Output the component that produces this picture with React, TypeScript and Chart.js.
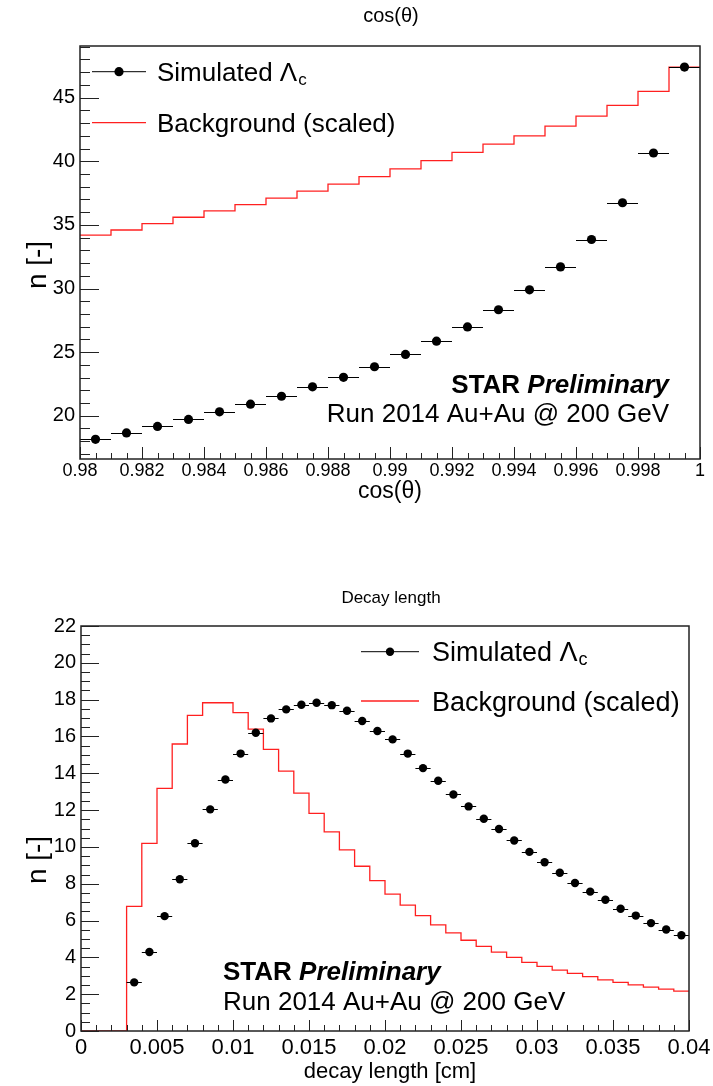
import React, { useEffect, useRef } from "react";
import { Chart, registerables } from "chart.js";

Chart.register(...registerables);

const FONT = "'Liberation Sans', Arial, Helvetica, sans-serif";

// ---------- Top panel: cos(theta) ----------
const COS_BIN_WIDTH = 0.001;
const COS_BIN_CENTERS = [
  0.9805, 0.9815, 0.9825, 0.9835, 0.9845, 0.9855, 0.9865, 0.9875, 0.9885, 0.9895,
  0.9905, 0.9915, 0.9925, 0.9935, 0.9945, 0.9955, 0.9965, 0.9975, 0.9985, 0.9995,
];
const COS_SIGNAL = [
  18.15, 18.65, 19.16, 19.71, 20.31, 20.91, 21.53, 22.27, 23.02, 23.85,
  24.82, 25.86, 26.98, 28.33, 29.9, 31.7, 33.85, 36.74, 40.65, 47.4,
];
const COS_BACKGROUND = [
  34.2, 34.6, 35.1, 35.6, 36.1, 36.6, 37.1, 37.65, 38.2, 38.8,
  39.4, 40.05, 40.7, 41.35, 42.0, 42.76, 43.55, 44.4, 45.5, 47.4,
];
const COS_X_TICKS = [0.98, 0.982, 0.984, 0.986, 0.988, 0.99, 0.992, 0.994, 0.996, 0.998, 1];
const COS_X_LABELS = ["0.98", "0.982", "0.984", "0.986", "0.988", "0.99", "0.992", "0.994", "0.996", "0.998", "1"];
const COS_Y_TICKS = [20, 25, 30, 35, 40, 45];
const COS_Y_LABELS = ["20", "25", "30", "35", "40", "45"];

// ---------- Bottom panel: decay length ----------
const DL_BIN_WIDTH = 0.001;
const DL_BIN_CENTERS = [
  0.0005, 0.0015, 0.0025, 0.0035, 0.0045, 0.0055, 0.0065, 0.0075, 0.0085, 0.0095,
  0.0105, 0.0115, 0.0125, 0.0135, 0.0145, 0.0155, 0.0165, 0.0175, 0.0185, 0.0195,
  0.0205, 0.0215, 0.0225, 0.0235, 0.0245, 0.0255, 0.0265, 0.0275, 0.0285, 0.0295,
  0.0305, 0.0315, 0.0325, 0.0335, 0.0345, 0.0355, 0.0365, 0.0375, 0.0385, 0.0395,
];
const DL_SIGNAL = [
  null, null, null, 2.64, 4.29, 6.24, 8.24, 10.2, 12.04, 13.66,
  15.07, 16.2, 16.98, 17.47, 17.72, 17.83, 17.7, 17.4, 16.84, 16.3,
  15.84, 15.07, 14.28, 13.59, 12.85, 12.2, 11.53, 10.97, 10.35, 9.73,
  9.17, 8.6, 8.04, 7.57, 7.13, 6.64, 6.27, 5.86, 5.51, 5.2,
];
const DL_BACKGROUND = [
  0, 0, 0, 6.77, 10.19, 13.18, 15.59, 17.15, 17.83, 17.83,
  17.29, 16.4, 15.3, 14.12, 12.92, 11.82, 10.82, 9.84, 8.95, 8.17,
  7.44, 6.84, 6.27, 5.77, 5.33, 4.93, 4.6, 4.29, 4.0, 3.73,
  3.51, 3.31, 3.13, 2.95, 2.78, 2.64, 2.51, 2.38, 2.27, 2.17,
];
const DL_X_TICKS = [0, 0.005, 0.01, 0.015, 0.02, 0.025, 0.03, 0.035, 0.04];
const DL_X_LABELS = ["0", "0.005", "0.01", "0.015", "0.02", "0.025", "0.03", "0.035", "0.04"];
const DL_Y_TICKS = [0, 2, 4, 6, 8, 10, 12, 14, 16, 18, 20, 22];
const DL_Y_LABELS = ["0", "2", "4", "6", "8", "10", "12", "14", "16", "18", "20", "22"];

const SIGNAL_LABEL = "Simulated Λ";
const SIGNAL_SUB = "c";
const BKG_LABEL = "Background (scaled)";
const STAR_BOLD = "STAR ";
const STAR_ITALIC = "Preliminary";
const RUN_LABEL = "Run 2014 Au+Au @ 200 GeV";

const TOP_PANEL = {
  offset: 0,
  canvasH: 545,
  padTop: 46,
  padRight: 13,
  yAxisW: 80,
  xAxisH: 86,
  xMin: 0.98, xMax: 1, yMin: 16.6, yMax: 49.06,
  centers: COS_BIN_CENTERS, binWidth: COS_BIN_WIDTH, signal: COS_SIGNAL, background: COS_BACKGROUND,
  xTicks: COS_X_TICKS, xLabels: COS_X_LABELS, yTicks: COS_Y_TICKS, yLabels: COS_Y_LABELS,
  xMajor: 0.002, xMinor: 0.0005, yMajor: 5, yMinor: 1,
  xMajLen: 12, xMinLen: 6, yMajLen: 19, yMinLen: 10,
  xTickSize: 18, xTickPad: 1, yTickSize: 20, yTickPad: 5,
  markerR: 4.6,
  title: { text: "cos(θ)", x: 391, y: 16, size: 20 },
  xTitle: { text: "cos(θ)", x: 390, y: 492, size: 23 },
  yTitle: { text: "n [-]", x: 38, y: 265, size: 28 },
  legend: { rows: [71.7, 122.7], x1: 92, x2: 146, tx: 157, size: 26, subSize: 17 },
  star: { align: "right", x: 669, ys: [393, 422], size: 26 },
};

const BOTTOM_PANEL = {
  offset: 545,
  canvasH: 541,
  padTop: 81,
  padRight: 24,
  yAxisW: 81,
  xAxisH: 55,
  xMin: 0, xMax: 0.04, yMin: 0, yMax: 22,
  centers: DL_BIN_CENTERS, binWidth: DL_BIN_WIDTH, signal: DL_SIGNAL, background: DL_BACKGROUND,
  xTicks: DL_X_TICKS, xLabels: DL_X_LABELS, yTicks: DL_Y_TICKS, yLabels: DL_Y_LABELS,
  xMajor: 0.005, xMinor: 0.001, yMajor: 2, yMinor: 0.5,
  xMajLen: 11, xMinLen: 6, yMajLen: 18, yMinLen: 9,
  xTickSize: 22, xTickPad: 4, yTickSize: 20, yTickPad: 5,
  markerR: 4.2,
  title: { text: "Decay length", x: 391, y: 598, size: 17 },
  xTitle: { text: "decay length [cm]", x: 390, y: 1072, size: 22 },
  yTitle: { text: "n [-]", x: 38, y: 860, size: 28 },
  legend: { rows: [651.7, 701], x1: 361, x2: 419, tx: 432, size: 27, subSize: 18 },
  star: { align: "left", x: 223, ys: [980, 1010], size: 26 },
};

function drawFrameAndTicks(chart: any, p: any) {
  const { ctx, chartArea: a, scales } = chart;
  const xs = scales.x;
  const ys = scales.y;
  ctx.save();
  ctx.strokeStyle = "#222";
  ctx.lineWidth = 1;
  ctx.beginPath();
  const kx0 = Math.ceil(p.xMin / p.xMinor - 1e-6);
  const kx1 = Math.floor(p.xMax / p.xMinor + 1e-6);
  for (let k = kx0; k <= kx1; k++) {
    const v = k * p.xMinor;
    const r = v / p.xMajor;
    const major = Math.abs(r - Math.round(r)) < 1e-6;
    const px = Math.round(xs.getPixelForValue(v)) + 0.5;
    const len = major ? p.xMajLen : p.xMinLen;
    ctx.moveTo(px, a.bottom);
    ctx.lineTo(px, a.bottom - len);
  }
  const ky0 = Math.ceil(p.yMin / p.yMinor - 1e-6);
  const ky1 = Math.floor(p.yMax / p.yMinor + 1e-6);
  for (let k = ky0; k <= ky1; k++) {
    const v = k * p.yMinor;
    const r = v / p.yMajor;
    const major = Math.abs(r - Math.round(r)) < 1e-6;
    const py = Math.round(ys.getPixelForValue(v)) + 0.5;
    const len = major ? p.yMajLen : p.yMinLen;
    ctx.moveTo(a.left, py);
    ctx.lineTo(a.left + len, py);
  }
  ctx.stroke();
  ctx.lineWidth = 1.5;
  ctx.strokeStyle = "#222";
  ctx.strokeRect(a.left, a.top, a.right - a.left, a.bottom - a.top);
  ctx.restore();
}

function drawTexts(chart: any, p: any) {
  const ctx = chart.ctx as CanvasRenderingContext2D;
  ctx.save();
  ctx.translate(0, -p.offset);
  ctx.fillStyle = "#000";

  // title
  ctx.font = `${p.title.size}px ${FONT}`;
  ctx.textAlign = "center";
  ctx.textBaseline = "middle";
  ctx.fillText(p.title.text, p.title.x, p.title.y);

  // x title
  ctx.font = `${p.xTitle.size}px ${FONT}`;
  ctx.fillText(p.xTitle.text, p.xTitle.x, p.xTitle.y);

  // y title
  ctx.save();
  ctx.translate(p.yTitle.x, p.yTitle.y);
  ctx.rotate(-Math.PI / 2);
  ctx.font = `${p.yTitle.size}px ${FONT}`;
  ctx.fillText(p.yTitle.text, 0, 0);
  ctx.restore();

  // legend
  const L = p.legend;
  const mid = (L.x1 + L.x2) / 2;
  ctx.lineWidth = 1;
  ctx.strokeStyle = "#000";
  ctx.beginPath();
  ctx.moveTo(L.x1, L.rows[0]);
  ctx.lineTo(L.x2, L.rows[0]);
  ctx.stroke();
  ctx.beginPath();
  ctx.arc(mid, L.rows[0], p.markerR, 0, Math.PI * 2);
  ctx.fill();
  ctx.strokeStyle = "#ff2020";
  ctx.lineWidth = 1.3;
  ctx.beginPath();
  ctx.moveTo(L.x1, L.rows[1]);
  ctx.lineTo(L.x2, L.rows[1]);
  ctx.stroke();

  ctx.textAlign = "left";
  ctx.textBaseline = "alphabetic";
  ctx.font = `${L.size}px ${FONT}`;
  const base0 = L.rows[0] + 0.358 * L.size;
  ctx.fillText(SIGNAL_LABEL, L.tx, base0);
  const w0 = ctx.measureText(SIGNAL_LABEL).width;
  ctx.font = `${L.subSize}px ${FONT}`;
  ctx.fillText(SIGNAL_SUB, L.tx + w0 + 1, base0 + 4);
  ctx.font = `${L.size}px ${FONT}`;
  ctx.fillText(BKG_LABEL, L.tx, L.rows[1] + 0.358 * L.size);

  // STAR Preliminary
  const S = p.star;
  const boldFont = `bold ${S.size}px ${FONT}`;
  const italFont = `italic bold ${S.size}px ${FONT}`;
  const regFont = `${S.size}px ${FONT}`;
  ctx.font = boldFont;
  const wb = ctx.measureText(STAR_BOLD).width;
  ctx.font = italFont;
  const wi = ctx.measureText(STAR_ITALIC).width;
  ctx.font = regFont;
  const wr = ctx.measureText(RUN_LABEL).width;
  const x0 = S.align === "right" ? S.x - (wb + wi) : S.x;
  ctx.font = boldFont;
  ctx.fillText(STAR_BOLD, x0, S.ys[0]);
  ctx.font = italFont;
  ctx.fillText(STAR_ITALIC, x0 + wb, S.ys[0]);
  ctx.font = regFont;
  const x1 = S.align === "right" ? S.x - wr : S.x;
  ctx.fillText(RUN_LABEL, x1, S.ys[1]);

  ctx.restore();
}

function drawErrorBars(chart: any, p: any) {
  const { ctx, scales } = chart;
  const xs = scales.x;
  const ys = scales.y;
  const hw = p.binWidth / 2;
  ctx.save();
  ctx.strokeStyle = "#000";
  ctx.lineWidth = 1;
  ctx.beginPath();
  p.centers.forEach((c: number, i: number) => {
    const v = p.signal[i];
    if (v === null || v === undefined) return;
    const py = Math.round(ys.getPixelForValue(v)) + 0.5;
    ctx.moveTo(xs.getPixelForValue(c - hw), py);
    ctx.lineTo(xs.getPixelForValue(c + hw), py);
  });
  ctx.stroke();
  ctx.restore();
}

function makeConfig(p: any): any {
  const hw = p.binWidth / 2;
  const sig = p.centers.map((c: number, i: number) => ({ x: c, y: p.signal[i] }));
  const bkg = p.centers.map((c: number, i: number) => ({ x: c - hw, y: p.background[i] }));
  bkg.push({ x: p.centers[p.centers.length - 1] + hw, y: p.background[p.background.length - 1] });

  const plugin = {
    id: "rootStyle",
    beforeDatasetDraw(chart: any, args: any) {
      if (args.index === 0) drawErrorBars(chart, p);
    },
    afterDraw(chart: any) {
      drawFrameAndTicks(chart, p);
      drawTexts(chart, p);
    },
  };

  return {
    type: "line",
    data: {
      datasets: [
        {
          label: SIGNAL_LABEL + SIGNAL_SUB,
          data: sig,
          showLine: false,
          pointRadius: p.markerR,
          pointHoverRadius: p.markerR,
          pointBackgroundColor: "#000",
          pointBorderColor: "#000",
          pointBorderWidth: 0,
        },
        {
          label: BKG_LABEL,
          data: bkg,
          stepped: true,
          borderColor: "#ff2020",
          borderWidth: 1.3,
          pointRadius: 0,
          pointHoverRadius: 0,
          fill: false,
        },
      ],
    },
    options: {
      responsive: false,
      maintainAspectRatio: false,
      animation: false,
      events: [],
      layout: { padding: { left: 0, top: p.padTop, right: p.padRight, bottom: 0 } },
      plugins: {
        legend: { display: false },
        title: { display: false },
        tooltip: { enabled: false },
      },
      scales: {
        x: {
          type: "linear",
          min: p.xMin,
          max: p.xMax,
          grid: { display: false, drawTicks: false },
          border: { display: false },
          ticks: {
            font: { family: FONT, size: p.xTickSize },
            color: "#000",
            padding: p.xTickPad,
            maxRotation: 0,
            minRotation: 0,
            autoSkip: false,
            callback: (_v: any, i: number) => p.xLabels[i],
          },
          afterBuildTicks: (s: any) => {
            s.ticks = p.xTicks.map((v: number) => ({ value: v }));
          },
          afterFit: (s: any) => {
            s.height = p.xAxisH;
            s.paddingLeft = 0;
            s.paddingRight = 0;
          },
        },
        y: {
          type: "linear",
          min: p.yMin,
          max: p.yMax,
          grid: { display: false, drawTicks: false },
          border: { display: false },
          ticks: {
            font: { family: FONT, size: p.yTickSize },
            color: "#000",
            padding: p.yTickPad,
            autoSkip: false,
            callback: (_v: any, i: number) => p.yLabels[i],
          },
          afterBuildTicks: (s: any) => {
            s.ticks = p.yTicks.map((v: number) => ({ value: v }));
          },
          afterFit: (s: any) => {
            s.width = p.yAxisW;
            s.paddingTop = 0;
            s.paddingBottom = 0;
          },
        },
      },
    },
    plugins: [plugin],
  };
}

export default function App() {
  const topRef = useRef<HTMLCanvasElement>(null);
  const botRef = useRef<HTMLCanvasElement>(null);

  useEffect(() => {
    const c1 = new Chart(topRef.current as HTMLCanvasElement, makeConfig(TOP_PANEL));
    const c2 = new Chart(botRef.current as HTMLCanvasElement, makeConfig(BOTTOM_PANEL));
    return () => {
      c1.destroy();
      c2.destroy();
    };
  }, []);

  return (
    <div style={{ position: "absolute", left: 0, top: 0, width: 713, height: 1086, background: "#fff" }}>
      <canvas
        ref={topRef}
        width={713}
        height={TOP_PANEL.canvasH}
        style={{ position: "absolute", left: 0, top: 0, width: 713, height: TOP_PANEL.canvasH }}
      />
      <canvas
        ref={botRef}
        width={713}
        height={BOTTOM_PANEL.canvasH}
        style={{ position: "absolute", left: 0, top: BOTTOM_PANEL.offset, width: 713, height: BOTTOM_PANEL.canvasH }}
      />
    </div>
  );
}
